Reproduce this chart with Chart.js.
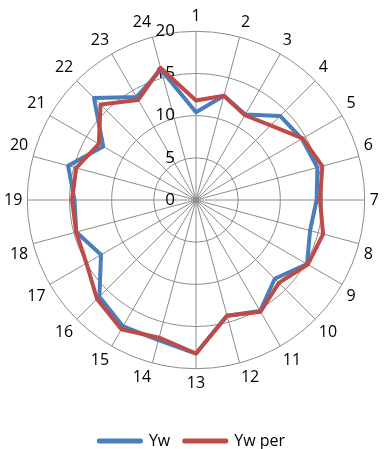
<!DOCTYPE html>
<html>
<head>
<meta charset="utf-8">
<script src="https://cdn.jsdelivr.net/npm/chart.js@4.4.0/dist/chart.umd.min.js"></script>
<style>
    html, body { margin: 0; padding: 0; background: #fff; }
    #wrap { width: 384px; height: 449px; }
</style>
</head>
<body>
<div id="wrap"><canvas id="graficoRadar"></canvas></div>
<script>
const categorias = ['1', '2', '3', '4', '5', '6', '7', '8', '9', '10', '11', '12',
    '13', '14', '15', '16', '17', '18', '19', '20', '21', '22', '23', '24'];

const valoresYw = [10.4, 12.8, 11.7, 14.1, 14.5, 14.9, 14.3, 14.0, 15.2, 13.2, 15.2, 14.2,
    18.2, 17.2, 17.3, 16.2, 13.0, 14.7, 14.4, 15.7, 12.7, 17.1, 14.1, 16.0];

const valoresYwPer = [11.8, 12.8, 11.6, 12.5, 14.6, 15.5, 14.7, 15.6, 15.3, 13.9, 15.3, 14.2,
    18.2, 16.9, 17.7, 16.6, 15.0, 14.7, 14.7, 14.7, 13.3, 16.0, 13.7, 16.2];

const marcas = [0, 5, 10, 15, 20];

const fonte = "'Open Sans', 'Noto Sans', sans-serif";

// rotulos da escala desenhados a esquerda do eixo, como no original
const rotulosEscala = {
    id: 'rotulosEscala',
    beforeDatasetsDraw(chart) {
        const escala = chart.scales.r;
        const ctx = chart.ctx;
        ctx.save();
        ctx.font = '17px ' + fonte;
        ctx.fillStyle = '#000';
        ctx.textAlign = 'right';
        ctx.textBaseline = 'middle';
        marcas.forEach((m) => {
            const d = escala.getDistanceFromCenterForValue(m);
            ctx.fillText(String(m), escala.xCenter - 21, escala.yCenter - d);
        });
        ctx.restore();
    }
};

const graficoRadar = new Chart(document.getElementById('graficoRadar'), {
    type: 'radar',
    data: {
        labels: categorias,
        datasets: [{
            label: 'Yw',
            data: valoresYw,
            borderColor: '#4a7ebb',
            backgroundColor: '#4a7ebb',
            borderWidth: 4,
            borderJoinStyle: 'round',
            borderCapStyle: 'round',
            fill: false,
            pointRadius: 0,
            order: 1
        }, {
            label: 'Yw per',
            data: valoresYwPer,
            borderColor: '#be4b48',
            backgroundColor: '#be4b48',
            borderWidth: 4,
            borderJoinStyle: 'round',
            borderCapStyle: 'round',
            fill: false,
            pointRadius: 0,
            order: 0
        }]
    },
    options: {
        responsive: true,
        maintainAspectRatio: false,
        animation: false,
        layout: { padding: { top: -3, bottom: -10, left: -9, right: -9 } },
        scales: {
            r: {
                min: 0,
                max: 20,
                ticks: { display: false, stepSize: 5 },
                grid: { circular: true, color: '#8c8c8c', lineWidth: 1 },
                angleLines: { color: '#8c8c8c', lineWidth: 1 },
                pointLabels: {
                    color: '#000',
                    padding: 5,
                    font: { family: fonte, size: 16 }
                }
            }
        },
        plugins: {
            tooltip: { enabled: false },
            legend: {
                position: 'bottom',
                title: {
                    display: true,
                    text: ' ',
                    font: { size: 10 },
                    padding: { top: 6, bottom: 0 }
                },
                labels: {
                    color: '#000',
                    boxWidth: 42,
                    boxHeight: 1,
                    padding: 14,
                    font: { family: fonte, size: 16 },
                    sort: (a, b) => a.datasetIndex - b.datasetIndex
                }
            }
        }
    },
    plugins: [rotulosEscala]
});
</script>
</body>
</html>
